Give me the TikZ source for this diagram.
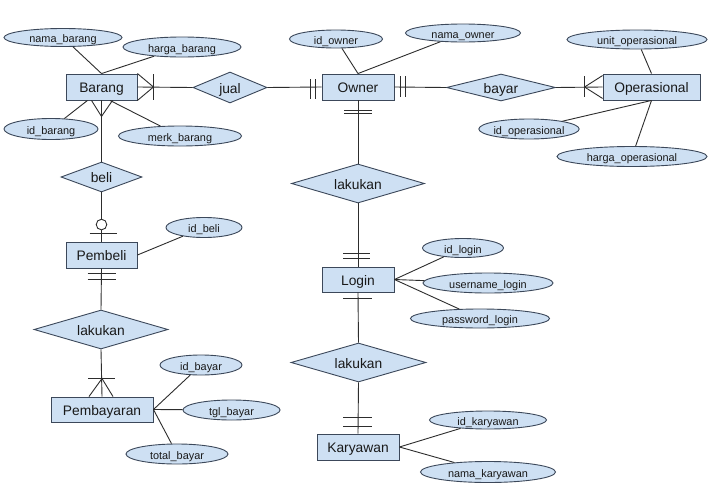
\documentclass[tikz,border=0pt]{standalone}
\usepackage{fontspec}
\setmainfont{Liberation Sans}
\usetikzlibrary{shapes.geometric,calc}
\definecolor{fillc}{RGB}{206,224,243}
\definecolor{bordc}{RGB}{60,72,90}
\definecolor{linec}{RGB}{45,45,45}
\definecolor{textc}{RGB}{25,25,25}
\begin{document}
\begin{tikzpicture}[x=1pt,y=-1pt,
  entity/.style={draw=bordc, fill=fillc, line width=0.9pt, rectangle, inner sep=0pt, minimum height=26pt, text height=11pt, text depth=0pt, font=\fontsize{13.8}{15}\selectfont, text=textc},
  rel/.style={draw=bordc, fill=fillc, line width=0.9pt, diamond, shape aspect=3.4, inner sep=0pt, text height=11pt, text depth=0pt, font=\fontsize{13.8}{15}\selectfont, text=textc},
  attr/.style={draw=bordc, fill=fillc, line width=0.9pt, ellipse, inner sep=0pt, text height=10pt, text depth=0pt, font=\fontsize{10.9}{12}\selectfont, text=textc},
  conn/.style={draw=linec, line width=0.9pt}]
\useasboundingbox (0,0) rectangle (713,498);
\fill[white] (0,0) rectangle (713,498);

% entities
\node[entity, minimum width=71pt] (barang) at (101.5,87) {Barang};
\node[entity, minimum width=72pt] (owner) at (358,87) {Owner};
\node[entity, minimum width=97pt] (oper) at (651.5,87) {Operasional};
\node[entity, minimum width=71pt] (pembeli) at (101.5,255) {Pembeli};
\node[entity, minimum width=102pt, minimum height=25pt] (pembayaran) at (102,409.5) {Pembayaran};
\node[entity, minimum width=72pt, minimum height=25pt] (login) at (358,279.5) {Login};
\node[entity, minimum width=82pt] (karyawan) at (358,447) {Karyawan};

% relationships
\node[rel, minimum width=74pt, minimum height=31pt] (jual) at (230,87.5) {jual};
\node[rel, minimum width=109pt, minimum height=27pt] (bayar) at (501,87.5) {bayar};
\node[rel, minimum width=81pt, minimum height=30pt] (beli) at (101.5,177) {beli};
\node[rel, minimum width=134pt, minimum height=39pt] (lakA) at (101,329.5) {lakukan};
\node[rel, minimum width=133pt, minimum height=39pt] (lakB) at (358,183.5) {lakukan};
\node[rel, minimum width=135pt, minimum height=39pt] (lakC) at (358.5,362.5) {lakukan};

% attributes
\node[attr, minimum width=118pt, minimum height=18pt] (namabarang) at (63,37.5) {nama\_barang};
\node[attr, minimum width=118pt, minimum height=20pt] (hargabarang) at (182,47) {harga\_barang};
\node[attr, minimum width=94pt, minimum height=21pt] (idbarang) at (51,129) {id\_barang};
\node[attr, minimum width=123pt, minimum height=20pt] (merkbarang) at (180,136) {merk\_barang};
\node[attr, minimum width=93pt, minimum height=18pt] (idowner) at (336,39) {id\_owner};
\node[attr, minimum width=115pt, minimum height=18pt] (namaowner) at (463,33) {nama\_owner};
\node[attr, minimum width=140pt, minimum height=19pt] (unitop) at (637,39.5) {unit\_operasional};
\node[attr, minimum width=99pt, minimum height=20pt] (idop) at (529,129) {id\_operasional};
\node[attr, minimum width=150pt, minimum height=20pt] (hargaop) at (632,156.5) {harga\_operasional};
\node[attr, minimum width=76pt, minimum height=20pt] (idbeli) at (204,227.5) {id\_beli};
\node[attr, minimum width=82pt, minimum height=20pt] (idbayar) at (201,365) {id\_bayar};
\node[attr, minimum width=97pt, minimum height=20pt] (tglbayar) at (231.5,410) {tgl\_bayar};
\node[attr, minimum width=102pt, minimum height=20pt] (totalbayar) at (177,454) {total\_bayar};
\node[attr, minimum width=81pt, minimum height=19pt] (idlogin) at (463,248) {id\_login};
\node[attr, minimum width=130pt, minimum height=20pt] (userlogin) at (488,283) {username\_login};
\node[attr, minimum width=139pt, minimum height=19pt] (passlogin) at (480,318.5) {password\_login};
\node[attr, minimum width=117pt, minimum height=18pt] (idkar) at (488,420) {id\_karyawan};
\node[attr, minimum width=135pt, minimum height=21pt] (namakar) at (488,472) {nama\_karyawan};

% attribute links
\draw[conn] (namabarang) -- (barang.north);
\draw[conn] (hargabarang) -- (barang.north);
\draw[conn] (idbarang) -- ($(barang.south)+(-14,0)$);
\draw[conn] (merkbarang) -- ($(barang.south)+(8.5,0)$);
\draw[conn] (idowner) -- (owner.north);
\draw[conn] (namaowner) -- (owner.north);
\draw[conn] (unitop) -- (oper.north);
\draw[conn] (idop) -- (oper.south);
\draw[conn] (hargaop) -- (oper.south);
\draw[conn] (idbeli) -- (pembeli.east);
\draw[conn] (idbayar) -- (pembayaran.east);
\draw[conn] (tglbayar) -- (pembayaran.east);
\draw[conn] (totalbayar) -- (pembayaran.east);
\draw[conn] (idlogin) -- (login.east);
\draw[conn] (userlogin) -- (login.east);
\draw[conn] (passlogin) -- (login.east);
\draw[conn] (idkar) -- (karyawan.east);
\draw[conn] (namakar) -- (karyawan.east);

% relationship links
\draw[conn] (barang.east) -- (jual.west);
\draw[conn] ($(barang.east)+(16,-13)$) -- ($(barang.east)+(16,13)$);
\draw[conn] (barang.north east) -- ($(barang.east)+(16,0)$) -- (barang.south east);

\draw[conn] (jual.east) -- (owner.west);
\draw[conn] ($(owner.west)+(-11,-8)$) -- ($(owner.west)+(-11,12)$);
\draw[conn] ($(owner.west)+(-6,-8)$) -- ($(owner.west)+(-6,12)$);

\draw[conn] (owner.east) -- (bayar.west);
\draw[conn] ($(owner.east)+(6,-11)$) -- ($(owner.east)+(6,10)$);
\draw[conn] ($(owner.east)+(11,-11)$) -- ($(owner.east)+(11,10)$);

\draw[conn] (bayar.east) -- (oper.west);
\draw[conn] ($(oper.west)+(-18,-11)$) -- ($(oper.west)+(-18,10)$);
\draw[conn] ($(oper.north west)+(0,2)$) -- ($(oper.west)+(-18,0)$) -- ($(oper.south west)+(0,-2)$);

\draw[conn] (barang.south) -- (beli.north);
\draw[conn] ($(barang.south)+(-10,0)$) -- ($(barang.south)+(0,16)$) -- ($(barang.south)+(11,0)$);

\draw[conn] (beli.south) -- (pembeli.north);
\draw[conn, fill=white] ($(pembeli.north)+(0,-17)$) circle (5.3pt);
\draw[conn] ($(pembeli.north)+(-12,-8)$) -- ($(pembeli.north)+(15,-8)$);

\draw[conn] (pembeli.south) -- (lakA.north);
\draw[conn] ($(pembeli.south)+(-14,5)$) -- ($(pembeli.south)+(14,5)$);
\draw[conn] ($(pembeli.south)+(-14,11)$) -- ($(pembeli.south)+(14,11)$);

\draw[conn] (lakA.south) -- (pembayaran.north);
\draw[conn] ($(pembayaran.north)+(-14,-18)$) -- ($(pembayaran.north)+(13,-18)$);
\draw[conn] ($(pembayaran.north)+(-13,0)$) -- ($(pembayaran.north)+(0,-18)$) -- ($(pembayaran.north)+(11,0)$);

\draw[conn] (owner.south) -- (lakB.north);
\draw[conn] ($(owner.south)+(-14,10)$) -- ($(owner.south)+(14,10)$);
\draw[conn] ($(owner.south)+(-14,13)$) -- ($(owner.south)+(14,13)$);

\draw[conn] (lakB.south) -- (login.north);
\draw[conn] ($(login.north)+(-15,-13)$) -- ($(login.north)+(12,-13)$);
\draw[conn] ($(login.north)+(-15,-8)$) -- ($(login.north)+(12,-8)$);

\draw[conn] (login.south) -- (lakC.north);
\draw[conn] ($(login.south)+(-15,6)$) -- ($(login.south)+(14,6)$);

\draw[conn] (lakC.south) -- (karyawan.north);
\draw[conn] ($(karyawan.north)+(-15,-16)$) -- ($(karyawan.north)+(14,-16)$);
\draw[conn] ($(karyawan.north)+(-15,-7)$) -- ($(karyawan.north)+(14,-7)$);
\end{tikzpicture}
\end{document}
